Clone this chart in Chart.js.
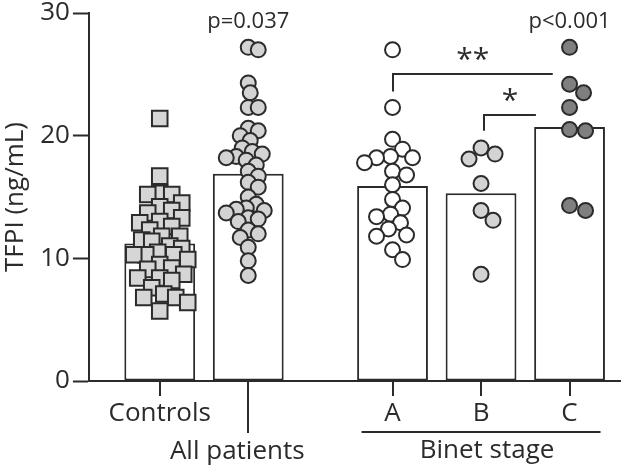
<!DOCTYPE html>
<html>
<head>
<meta charset="utf-8">
<script src="https://cdn.jsdelivr.net/npm/chart.js@4.4.0/dist/chart.umd.min.js"></script>
<style>
  html, body { margin: 0; padding: 0; background: #fff; }
</style>
</head>
<body>
<canvas id="chart" width="644" height="476"></canvas>
<script>
// groups along the x axis (linear positions leave the gap before Binet stages)
const groups = ['Controls', 'All patients', 'A', 'B', 'C'];
const groupPos = [0, 1, 2.63, 3.63, 4.63];
const groupMeans = [11.2, 16.9, 15.9, 15.3, 20.7];
const yTicks = [0, 10, 20, 30];

// individual TFPI values (ng/mL)
const controls = [21.4, 16.7, 15.3, 15.2, 15.2, 14.5, 14.2, 13.9, 13.7, 13.3, 13.0, 12.9, 12.6, 12.3,
  11.8, 11.8, 11.5, 11.4, 11.0, 10.8, 10.5, 10.3, 10.3, 10.3, 9.9, 9.5, 9.2, 9.1, 8.7, 8.4, 8.4,
  8.2, 7.6, 7.1, 6.8, 6.8, 6.4, 5.7];
const allPatients = [27.2, 27.0, 24.3, 23.5, 22.3, 22.3, 20.6, 20.4, 20.0, 19.6, 19.0, 18.7, 18.5,
  18.3, 18.2, 18.0, 17.6, 17.1, 16.7, 16.2, 15.8, 15.0, 14.4, 14.1, 14.0, 13.9, 13.7, 13.3, 13.2,
  13.0, 12.3, 12.0, 11.7, 10.9, 9.8, 8.6];
const stageA = [27.0, 22.3, 19.7, 18.9, 18.3, 18.2, 18.2, 17.8, 17.1, 16.8, 16.0, 14.8, 14.1, 13.6,
  13.4, 12.9, 12.4, 11.9, 11.8, 10.7, 9.9];
const stageB = [19.0, 18.5, 18.1, 16.1, 13.9, 13.1, 8.7];
const stageC = [27.2, 24.2, 23.5, 22.3, 20.5, 20.4, 14.3, 13.9];

const pLabels = ['p=0.037', 'p<0.001'];
const pLabelGroups = [1, 4];
// comparison brackets: [from x, to x, bar level, drop level, stars]
const brackets = [
  [2.63, 4.44, 25.0, 23.6, '**'],
  [3.66, 4.25, 21.7, 20.4, '*']
];

const ink = '#2b2b2b';
const font = "'Open Sans', 'Liberation Sans', Arial, sans-serif";

const pointSets = [
  { values: controls, pos: groupPos[0], fill: '#d6d6d6', style: 'rect', radius: 11, gap: 12, spread: 28 },
  { values: allPatients, pos: groupPos[1], fill: '#d3d3d3', style: 'circle', radius: 7.5, gap: 10, spread: 22 },
  { values: stageA, pos: groupPos[2], fill: '#ffffff', style: 'circle', radius: 7.5, gap: 13, spread: 28 },
  { values: stageB, pos: groupPos[3], fill: '#d3d3d3', style: 'circle', radius: 7.5, gap: 15, spread: 28 },
  { values: stageC, pos: groupPos[4], fill: '#7f7f7f', style: 'circle', radius: 7.5, gap: 15, spread: 28 }
];

// simple beeswarm: spread points sideways so they don't pile up
function swarm(set, xs, ys) {
  const cx = xs.getPixelForValue(set.pos);
  const placed = [];
  const out = new Array(set.values.length);
  const order = set.values.map((v, i) => i).sort((a, b) => set.values[b] - set.values[a]);
  order.forEach(i => {
    const py = ys.getPixelForValue(set.values[i]);
    let best = 0, bestD = -1;
    for (let k = 0; k <= 40; k++) {
      const off = (k % 2 ? 1 : -1) * Math.ceil(k / 2) * 2;
      if (Math.abs(off) > set.spread) break;
      let d = Infinity;
      placed.forEach(p => { d = Math.min(d, Math.hypot(p.x - (cx + off), p.y - py)); });
      if (d >= set.gap) { best = off; bestD = d; break; }
      if (d > bestD) { bestD = d; best = off; }
    }
    placed.push({ x: cx + best, y: py });
    out[i] = { x: xs.getValueForPixel(cx + best), y: set.values[i] };
  });
  return out;
}

const annotate = {
  id: 'annotate',
  afterDraw(chart) {
    const { ctx, chartArea, scales: { x, y } } = chart;
    const base = chartArea.bottom;
    ctx.save();
    ctx.strokeStyle = ink;
    ctx.fillStyle = ink;
    ctx.lineWidth = 2;
    ctx.textAlign = 'center';
    ctx.textBaseline = 'middle';

    // x category ticks and labels
    groupPos.forEach((p, i) => {
      const px = Math.round(x.getPixelForValue(p));
      ctx.beginPath();
      ctx.moveTo(px, base);
      ctx.lineTo(px, base + (i === 1 ? 52 : 15));
      ctx.stroke();
    });
    ctx.font = '26px ' + font;
    ctx.fillText(groups[0], x.getPixelForValue(groupPos[0]), base + 33);
    ctx.fillText(groups[1], x.getPixelForValue(groupPos[1]) - 11, base + 71);
    for (let i = 2; i < 5; i++) ctx.fillText(groups[i], x.getPixelForValue(groupPos[i]), base + 33);
    ctx.beginPath();
    ctx.moveTo(x.getPixelForValue(groupPos[2] - 0.35), base + 51);
    ctx.lineTo(x.getPixelForValue(groupPos[4] + 0.35), base + 51);
    ctx.stroke();
    ctx.fillText('Binet stage', x.getPixelForValue(groupPos[3]) + 6, base + 70);

    // p values
    ctx.font = '22px ' + font;
    pLabels.forEach((t, i) => {
      ctx.fillText(t, x.getPixelForValue(groupPos[pLabelGroups[i]]), y.getPixelForValue(29.3));
    });

    // brackets
    ctx.font = '30px ' + font;
    brackets.forEach(([x0, x1, lvl, drop, stars]) => {
      const px0 = Math.round(x.getPixelForValue(x0)), px1 = x.getPixelForValue(x1);
      const py = Math.round(y.getPixelForValue(lvl));
      ctx.beginPath();
      ctx.moveTo(px0, y.getPixelForValue(drop));
      ctx.lineTo(px0, py);
      ctx.lineTo(px1, py);
      ctx.stroke();
      ctx.fillText(stars, (px0 + px1) / 2, py - 14);
    });
    ctx.restore();
  }
};

const datasets = pointSets.map(s => ({
  type: 'scatter',
  data: s.values.map(v => ({ x: s.pos, y: v })),
  pointStyle: s.style,
  pointRadius: s.radius,
  backgroundColor: s.fill,
  borderColor: ink,
  borderWidth: 2,
  order: 1,
  clip: false
}));
datasets.push({
  type: 'bar',
  data: groupPos.map((p, i) => ({ x: p, y: groupMeans[i] })),
  backgroundColor: '#ffffff',
  borderColor: ink,
  borderWidth: 2,
  borderSkipped: false,
  barPercentage: 0.8,
  categoryPercentage: 1,
  order: 2
});

const chart = new Chart(document.getElementById('chart'), {
  type: 'bar',
  data: { datasets },
  options: {
    responsive: false,
    animation: false,
    events: [],
    layout: { padding: { top: 0, right: 24, bottom: 87, left: 0 } },
    plugins: { legend: { display: false }, tooltip: { enabled: false } },
    scales: {
      x: {
        type: 'linear',
        offset: false,
        min: -0.8,
        max: 5.2,
        afterBuildTicks: ax => { ax.ticks = groupPos.map(v => ({ value: v })); },
        grid: { display: false },
        ticks: { display: false },
        border: { color: ink, width: 2 }
      },
      y: {
        min: 0,
        max: 30,
        afterBuildTicks: ax => { ax.ticks = yTicks.map(v => ({ value: v })); },
        ticks: { color: ink, font: { family: font, size: 26, lineHeight: 0.7 }, padding: 3 },
        grid: { drawOnChartArea: false, tickLength: 16, tickColor: ink, tickWidth: 2 },
        border: { color: ink, width: 2 },
        title: { display: true, text: 'TFPI (ng/mL)', color: ink, font: { family: font, size: 26 }, padding: { top: 0, bottom: 6 } }
      }
    }
  },
  plugins: [annotate]
});

pointSets.forEach((s, i) => {
  chart.data.datasets[i].data = swarm(s, chart.scales.x, chart.scales.y);
});
chart.update('none');
</script>
</body>
</html>
